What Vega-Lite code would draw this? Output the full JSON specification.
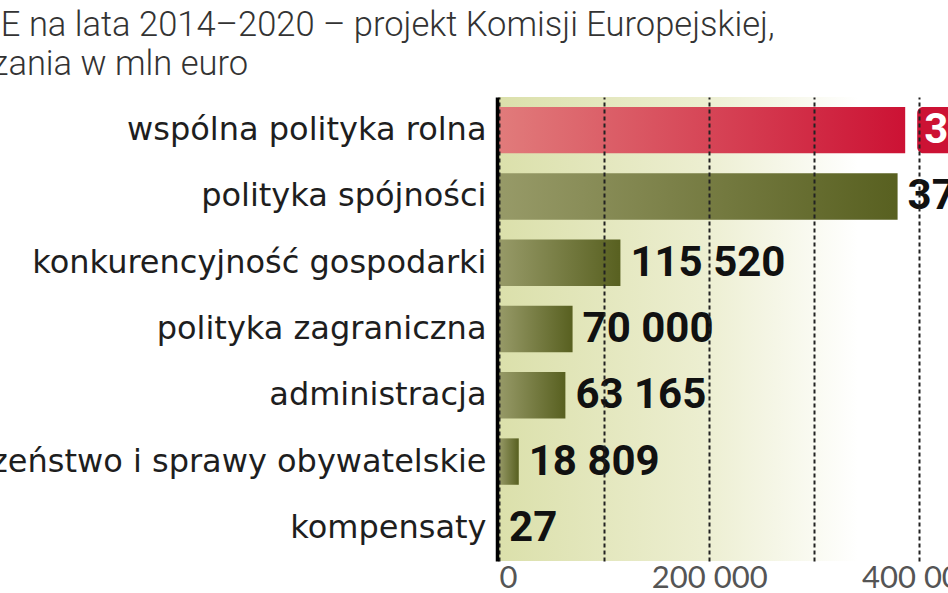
{
  "$schema": "https://vega.github.io/schema/vega-lite/v6.json",
  "autosize": {"type": "none"},
  "padding": {"left": 499, "top": 97, "right": 0, "bottom": 32},
  "width": 449,
  "height": 464,
  "background": "white",
  "config": {
    "view": {"stroke": null},
    "locale": {"number": {"decimal": ",", "thousands": " ", "grouping": [3], "currency": ["", " €"]}}
  },
  "title": {
    "text": ["Budżet UE na lata 2014–2020 – projekt Komisji Europejskiej,", "zobowiązania w mln euro"],
    "anchor": "start",
    "frame": "group",
    "dx": -634,
    "dy": 35,
    "offset": 16,
    "baseline": "bottom",
    "lineHeight": 39,
    "font": "Roboto",
    "fontWeight": 300,
    "fontSize": 34.5,
    "color": "#333333"
  },
  "data": {
    "values": [
      {"kategoria": "wspólna polityka rolna", "wartosc": 386472, "wyroznienie": "tak"},
      {"kategoria": "polityka spójności", "wartosc": 379243, "wyroznienie": "nie"},
      {"kategoria": "konkurencyjność gospodarki", "wartosc": 115520, "wyroznienie": "nie"},
      {"kategoria": "polityka zagraniczna", "wartosc": 70000, "wyroznienie": "nie"},
      {"kategoria": "administracja", "wartosc": 63165, "wyroznienie": "nie"},
      {"kategoria": "bezpieczeństwo i sprawy obywatelskie", "wartosc": 18809, "wyroznienie": "nie"},
      {"kategoria": "kompensaty", "wartosc": 27, "wyroznienie": "nie"}
    ]
  },
  "encoding": {
    "y": {
      "field": "kategoria",
      "type": "nominal",
      "sort": ["wspólna polityka rolna", "polityka spójności", "konkurencyjność gospodarki", "polityka zagraniczna", "administracja", "bezpieczeństwo i sprawy obywatelskie", "kompensaty"],
      "scale": {"paddingInner": 0.3, "paddingOuter": 0.15},
      "axis": {
        "title": null,
        "ticks": false,
        "domainColor": "#000000",
        "domainWidth": 3.5,
        "offset": 2,
        "labelFont": "DejaVu Sans",
        "labelFontSize": 32,
        "labelColor": "#1e1e1e",
        "labelPadding": 11,
        "labelLimit": 1000,
        "zindex": 2
      }
    }
  },
  "layer": [
    {
      "data": {"values": [{"tlo": 1}]},
      "mark": {
        "type": "rect",
        "fill": {
          "gradient": "linear",
          "x1": 0, "x2": 1, "y1": 0, "y2": 0,
          "stops": [
            {"offset": 0, "color": "#dbe0ab"},
            {"offset": 0.45, "color": "#eceed0"},
            {"offset": 0.8, "color": "#ffffff"},
            {"offset": 1, "color": "#ffffff"}
          ]
        }
      },
      "encoding": {
        "x": {
          "datum": 0,
          "type": "quantitative",
          "scale": {"domain": [0, 427200], "nice": false, "zero": true},
          "axis": {
            "title": null,
            "values": [0, 100000, 200000, 300000, 400000],
            "grid": true,
            "gridDash": [4, 3],
            "gridColor": "#222222",
            "gridWidth": 2,
            "domain": false,
            "ticks": false,
            "labelFont": "Lato",
            "labelFontWeight": "normal",
            "labelFontSize": 31,
            "labelColor": "#555555",
            "labelPadding": 2,
            "labelExpr": "datum.value % 200000 === 0 ? datum.label : ''",
            "zindex": 1
          }
        },
        "x2": {"datum": 427200},
        "y": null
      }
    },
    {
      "transform": [{"filter": "datum.wyroznienie === 'nie'"}],
      "mark": {
        "type": "bar",
        "fill": {
          "gradient": "linear",
          "x1": 0, "x2": 1, "y1": 0, "y2": 0,
          "stops": [
            {"offset": 0, "color": "#979a68"},
            {"offset": 1, "color": "#586020"}
          ]
        }
      },
      "encoding": {"x": {"field": "wartosc", "type": "quantitative"}}
    },
    {
      "transform": [{"filter": "datum.wyroznienie === 'tak'"}],
      "mark": {
        "type": "bar",
        "fill": {
          "gradient": "linear",
          "x1": 0, "x2": 1, "y1": 0, "y2": 0,
          "stops": [
            {"offset": 0, "color": "#e17b7b"},
            {"offset": 1, "color": "#cc1234"}
          ]
        }
      },
      "encoding": {"x": {"field": "wartosc", "type": "quantitative"}}
    },
    {
      "transform": [{"filter": "datum.wyroznienie === 'tak'"}],
      "mark": {"type": "bar", "fill": "#cc1234", "cornerRadius": 6, "xOffset": 12},
      "encoding": {
        "x": {"field": "wartosc", "type": "quantitative"},
        "x2": {"datum": 500000}
      }
    },
    {
      "transform": [{"filter": "datum.wyroznienie === 'nie'"}],
      "mark": {
        "type": "text",
        "align": "left",
        "baseline": "middle",
        "dx": 10,
        "font": "Roboto",
        "fontWeight": "bold",
        "fontSize": 42,
        "color": "#111111"
      },
      "encoding": {
        "x": {"field": "wartosc", "type": "quantitative"},
        "text": {"field": "wartosc", "type": "quantitative", "format": ","}
      }
    },
    {
      "transform": [{"filter": "datum.wyroznienie === 'tak'"}],
      "mark": {
        "type": "text",
        "align": "left",
        "baseline": "middle",
        "dx": 19,
        "font": "Roboto",
        "fontWeight": "bold",
        "fontSize": 42,
        "color": "#ffffff"
      },
      "encoding": {
        "x": {"field": "wartosc", "type": "quantitative"},
        "text": {"field": "wartosc", "type": "quantitative", "format": ","}
      }
    }
  ]
}
